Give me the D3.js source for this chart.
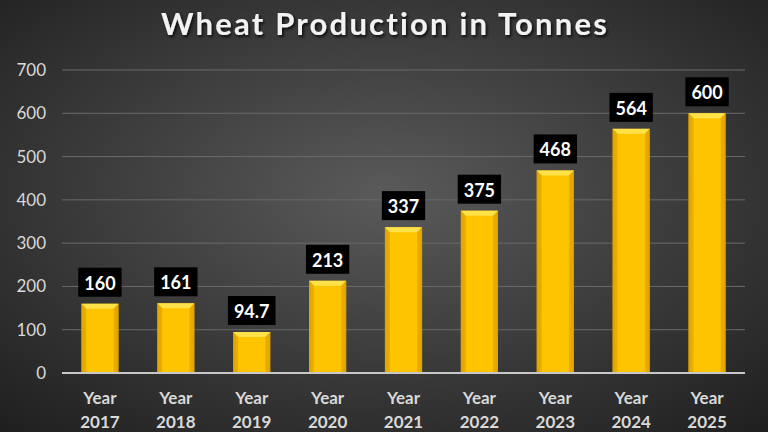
<!DOCTYPE html>
<html><head><meta charset="utf-8">
<script src="https://cdn.jsdelivr.net/npm/d3@7/dist/d3.min.js"></script>
<style>html,body{margin:0;padding:0;background:#333;}svg{display:block;}</style>
</head><body>
<script>
const categories = ["2017","2018","2019","2020","2021","2022","2023","2024","2025"];
const values = [160,161,94.7,213,337,375,468,564,600];
const labels = ["160","161","94.7","213","337","375","468","564","600"];
const yTicks = [0,100,200,300,400,500,600,700];
const title = "Wheat Production in Tonnes";

const W = 768, H = 432;
const svg = d3.select("body").append("svg").attr("width", W).attr("height", H);
const defs = svg.append("defs");
const bg = defs.append("radialGradient").attr("id","bg").attr("cx","50%").attr("cy","45%").attr("r","75%");
bg.append("stop").attr("offset","0%").attr("stop-color","#5a5a5a");
bg.append("stop").attr("offset","100%").attr("stop-color","#1e1e1e");
const bar = defs.append("linearGradient").attr("id","barg").attr("x1","0").attr("x2","1").attr("y1","0").attr("y2","0");
bar.append("stop").attr("offset","0%").attr("stop-color","#e6aa00");
bar.append("stop").attr("offset","12%").attr("stop-color","#ffc400");
bar.append("stop").attr("offset","88%").attr("stop-color","#ffc400");
bar.append("stop").attr("offset","100%").attr("stop-color","#e6aa00");
const shadow = defs.append("filter").attr("id","ts").attr("x","-10%").attr("y","-20%").attr("width","120%").attr("height","150%");
shadow.append("feDropShadow").attr("dx",1.5).attr("dy",2).attr("stdDeviation",1.5).attr("flood-color","#000").attr("flood-opacity",0.8);

svg.append("rect").attr("width",W).attr("height",H).attr("fill","url(#bg)");

const x = d3.scaleBand().domain(categories).range([62,745]).paddingInner(0.51).paddingOuter(0.255);
const y = d3.scaleLinear().domain([0,700]).range([373,70]);

svg.append("text").attr("x",385).attr("y",35).attr("text-anchor","middle")
  .attr("font-family","Lato, 'Open Sans', sans-serif").attr("font-weight","bold")
  .attr("font-size",31).attr("fill","#f2f2f2").attr("filter","url(#ts)").attr("letter-spacing","2.2").text(title);

// gridlines
svg.append("g").selectAll("line").data(yTicks.filter(d=>d>0)).join("line")
  .attr("x1",62).attr("x2",745).attr("y1",d=>y(d)).attr("y2",d=>y(d))
  .attr("stroke","#6a6a6a").attr("stroke-width",1);

// y axis
const ya = svg.append("g").attr("transform","translate(62,0)")
  .call(d3.axisLeft(y).tickValues(yTicks).tickSize(0).tickPadding(16));
ya.select(".domain").remove();
ya.selectAll("text").attr("font-family","Lato, 'Open Sans', sans-serif").attr("font-size",17).attr("fill","#d9d9d9");

// bars
const g = svg.append("g");
const bw = x.bandwidth();
const bev = 5;
categories.forEach((c,i)=>{
  const x0 = x(c), yt = y(values[i]), y0 = y(0);
  g.append("rect").attr("x",x0).attr("y",yt).attr("width",bw).attr("height",y0-yt).attr("fill","url(#barg)");
  g.append("path").attr("d",`M${x0},${yt}L${x0+bw},${yt}L${x0+bw-bev},${yt+bev}L${x0+bev},${yt+bev}Z`).attr("fill","#ffe24a");
  g.append("path").attr("d",`M${x0},${yt}L${x0+bev},${yt+bev}L${x0+bev},${y0}L${x0},${y0}Z`).attr("fill","#d99c00").attr("opacity",0.55);
  g.append("path").attr("d",`M${x0+bw},${yt}L${x0+bw-bev},${yt+bev}L${x0+bw-bev},${y0}L${x0+bw},${y0}Z`).attr("fill","#d99c00").attr("opacity",0.55);
});

// axis line
svg.append("line").attr("x1",62).attr("x2",745).attr("y1",y(0)).attr("y2",y(0)).attr("stroke","#c8c8c8").attr("stroke-width",2);

// data labels
const lg = svg.append("g");
categories.forEach((c,i)=>{
  const cx = x(c)+bw/2, yt = y(values[i]);
  const t = lg.append("text").attr("x",cx).attr("y",yt-14).attr("text-anchor","middle")
    .attr("font-family","Lato, 'Open Sans', sans-serif").attr("font-weight","bold").attr("font-size",18).attr("fill","#fff").text(labels[i]);
  const bb = t.node().getBBox();
  lg.insert("rect","text").attr("x",cx-(bb.width+12)/2).attr("y",yt-36).attr("width",bb.width+12).attr("height",29).attr("fill","#000");
});

// x labels
const xl = svg.append("g");
categories.forEach(c=>{
  const cx = x(c)+bw/2;
  const t = xl.append("text").attr("x",cx).attr("text-anchor","middle")
    .attr("font-family","Lato, 'Open Sans', sans-serif").attr("font-weight","bold").attr("font-size",17).attr("fill","#d9d9d9");
  t.append("tspan").attr("x",cx).attr("y",404).text("Year");
  t.append("tspan").attr("x",cx).attr("y",428).text(c);
});
</script>
</body></html>
